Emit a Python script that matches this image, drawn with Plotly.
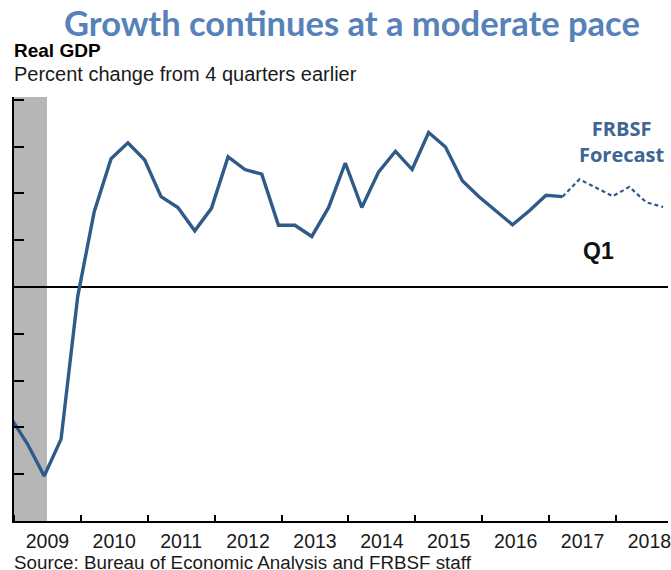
import plotly.graph_objects as go

# Real GDP, percent change from 4 quarters earlier (actual data)
quarters = [
    "2008Q4", "2009Q1", "2009Q2", "2009Q3", "2009Q4",
    "2010Q1", "2010Q2", "2010Q3", "2010Q4",
    "2011Q1", "2011Q2", "2011Q3", "2011Q4",
    "2012Q1", "2012Q2", "2012Q3", "2012Q4",
    "2013Q1", "2013Q2", "2013Q3", "2013Q4",
    "2014Q1", "2014Q2", "2014Q3", "2014Q4",
    "2015Q1", "2015Q2", "2015Q3", "2015Q4",
    "2016Q1", "2016Q2", "2016Q3", "2016Q4",
    "2017Q1",
]
gdp_growth = [
    -2.80, -3.35, -4.04, -3.25, -0.20,
    1.61, 2.74, 3.08, 2.72,
    1.93, 1.70, 1.20, 1.68,
    2.78, 2.51, 2.41, 1.32,
    1.32, 1.08, 1.70, 2.65,
    1.70, 2.46, 2.90, 2.51,
    3.30, 2.99, 2.27, 1.93,
    1.62, 1.33, 1.63, 1.96,
    1.93,
]

# FRBSF staff forecast, starting from the latest actual quarter
forecast_quarters = ["2017Q1", "2017Q2", "2017Q3", "2017Q4",
                     "2018Q1", "2018Q2", "2018Q3"]
forecast_growth = [1.93, 2.30, 2.12, 1.94, 2.14, 1.81, 1.71]

# Recession shading (2009 portion of the Great Recession)
recession_start = "2009-01-01"
recession_end = "2009-06-30"


def quarter_date(q):
    """Place a quarterly observation in the middle of the quarter's last month."""
    year, qn = q.split("Q")
    return f"{year}-{int(qn) * 3:02d}-15"


LINE_BLUE = "#2f5b89"
TITLE_BLUE = "#5682b9"
NOTE_BLUE = "#3e6593"

fig = go.Figure()

fig.add_shape(
    type="rect", xref="x", yref="paper",
    x0=recession_start, x1=recession_end, y0=0, y1=1,
    fillcolor="#b6b6b6", line_width=0, layer="below",
)

fig.add_trace(go.Scatter(
    x=[quarter_date(q) for q in quarters], y=gdp_growth,
    mode="lines", line=dict(color=LINE_BLUE, width=3.4),
    hoverinfo="skip", showlegend=False,
))
fig.add_trace(go.Scatter(
    x=[quarter_date(q) for q in forecast_quarters], y=forecast_growth,
    mode="lines", line=dict(color=LINE_BLUE, width=2.2, dash="4px,3px"),
    hoverinfo="skip", showlegend=False,
))

fig.update_xaxes(
    type="date",
    range=["2009-01-01", "2018-10-12"],
    showline=True, linecolor="black", linewidth=2,
    ticks="inside", ticklen=6, tickwidth=1.5, tickcolor="black",
    tick0="2009-01-01", dtick="M12",
    ticklabelmode="period", tickformat="%Y",
    ticklabeloverflow="allow",
    tickfont=dict(family="Liberation Sans, Arial", size=19.5, color="#1a1a1a"),
    ticklabelstandoff=2,
    showgrid=False, zeroline=False,
)
fig.update_yaxes(
    range=[-5, 4.06],
    showline=True, linecolor="black", linewidth=2,
    ticks="inside", ticklen=10, tickwidth=2, tickcolor="black",
    tick0=0, dtick=1,
    showticklabels=False,
    showgrid=False,
    zeroline=True, zerolinecolor="black", zerolinewidth=1.6,
)

annotations = [
    dict(text="<b>Growth continues at a moderate pace</b>",
         x=0.5175, y=1.175, font=dict(family="Lato", size=34.5, color=TITLE_BLUE)),
    dict(text="<b>Real GDP</b>", x=-0.003, y=1.11, xanchor="left",
         font=dict(family="Liberation Sans, Arial", size=19, color="black")),
    dict(text="Percent change from 4 quarters earlier", x=-0.003, y=1.055,
         xanchor="left",
         font=dict(family="Liberation Sans, Arial", size=20, color="#1a1a1a")),
    dict(text="<b>FRBSF<br>Forecast</b>", x=0.929, y=0.895,
         font=dict(family="Open Sans", size=20, color=NOTE_BLUE)),
    dict(text="<b>Q1</b>", x=0.893, y=0.636,
         font=dict(family="Liberation Sans, Arial", size=23, color="#111111")),
    dict(text="Source: Bureau of Economic Analysis and FRBSF staff",
         x=-0.003, y=-0.098, xanchor="left",
         font=dict(family="Liberation Sans, Arial", size=18.8, color="#1a1a1a")),
]
for a in annotations:
    a.setdefault("xanchor", "center")
    a.update(xref="paper", yref="paper", yanchor="middle", showarrow=False)

fig.update_layout(
    width=671, height=570,
    margin=dict(l=14, r=0, t=97, b=49),
    paper_bgcolor="white", plot_bgcolor="white",
    annotations=annotations,
)

fig.write_html("out.html")
